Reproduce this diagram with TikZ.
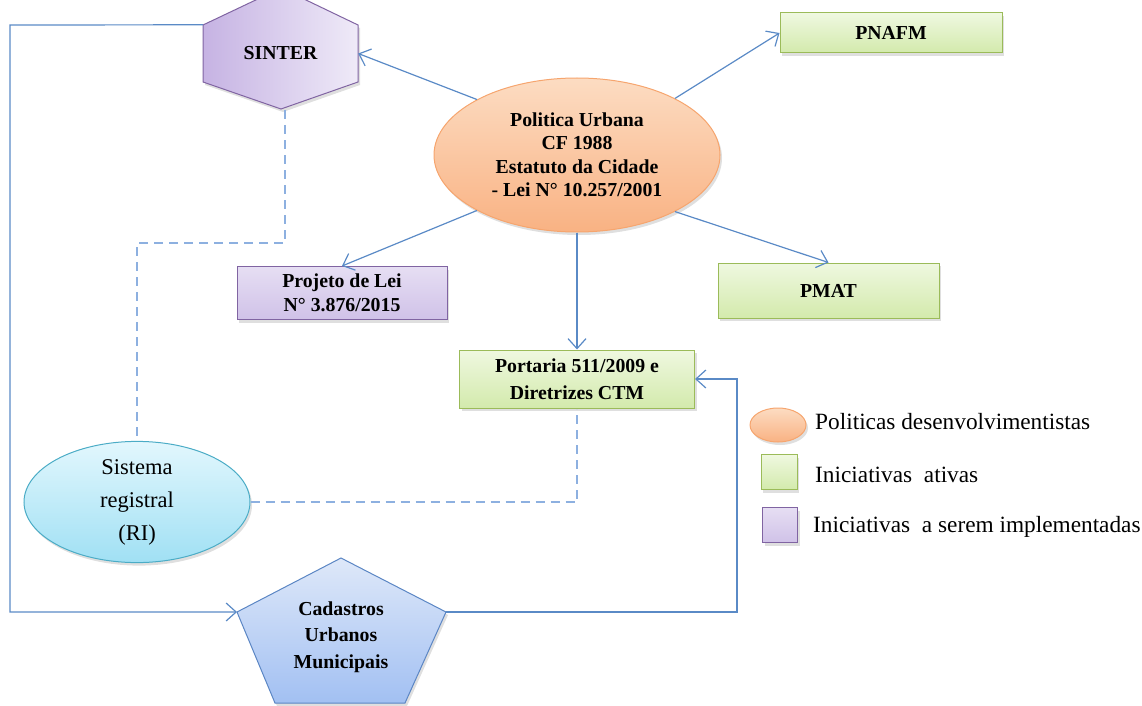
\documentclass[tikz,border=0pt]{standalone}
\usepackage{fontspec}
\setmainfont{Liberation Serif}
\usetikzlibrary{shapes.geometric,arrows.meta,shadows}
\definecolor{lineblue}{HTML}{5A8AC6}
\definecolor{dashblue}{HTML}{8DB0E0}
\definecolor{purpleB}{HTML}{8064A2}
\definecolor{purpleL}{HTML}{C6B3E3}
\definecolor{purpleR}{HTML}{EFEAF8}
\definecolor{purpleT}{HTML}{E6DEF3}
\definecolor{purpleD}{HTML}{D0C2E8}
\definecolor{greenB}{HTML}{9BBB59}
\definecolor{greenT}{HTML}{EFF8E0}
\definecolor{greenD}{HTML}{D3EAAC}
\definecolor{orangeB}{HTML}{F6A56E}
\definecolor{orangeT}{HTML}{FCDCC2}
\definecolor{orangeD}{HTML}{F9B283}
\definecolor{cyanB}{HTML}{4BACC6}
\definecolor{cyanT}{HTML}{E2F7FD}
\definecolor{cyanD}{HTML}{A0E0F4}
\definecolor{blueB}{HTML}{5B86C4}
\definecolor{blueT}{HTML}{DEE8F9}
\definecolor{blueD}{HTML}{A2C0F2}
\tikzset{
  shd/.style={drop shadow={opacity=0.25,shadow xshift=2pt,shadow yshift=-3pt}},
  boldtxt/.style={font=\fontsize{19.8}{24}\selectfont\bfseries,align=center},
  greenbox/.style={rectangle,draw=greenB,line width=1pt,top color=greenT,bottom color=greenD,shd,boldtxt,inner sep=0pt},
  purplebox/.style={rectangle,draw=purpleB,line width=1pt,top color=purpleT,bottom color=purpleD,shd,boldtxt,inner sep=0pt},
  arr/.style={draw=lineblue,line width=1.2pt,-{Straight Barb[length=10pt,width=18pt,line width=1.2pt]}},
  dsh/.style={draw=dashblue,line width=1.8pt,dash pattern=on 9pt off 6pt},
  legtxt/.style={font=\fontsize{23.3}{27}\selectfont,anchor=west,inner sep=0pt}
}
\begin{document}
\begin{tikzpicture}[x=1pt,y=-1pt]
\useasboundingbox (0,0) rectangle (1142,706);
% SINTER hexagon
\path[draw=purpleB,line width=1pt,left color=purpleL,right color=purpleR,shd]
  (203,25) -- (281,-12) -- (358,25) -- (358,82) -- (281,109) -- (203,82) -- cycle;
\node[boldtxt,minimum width=155pt,minimum height=57pt,inner sep=0pt] (sinter) at (280.5,53.5) {SINTER};
\coordinate (sinterB) at (285,110);
% Cadastros pentagon
\path[draw=blueB,line width=1pt,top color=blueT,bottom color=blueD,shd]
  (341,558) -- (446,612) -- (405,703) -- (275,703) -- (237,612) -- cycle;
\coordinate (cadL) at (237,612);
\coordinate (cadR) at (446,612);
\node[boldtxt,font=\fontsize{19.8}{26.5}\selectfont\bfseries] (cad) at (341,637) {Cadastros\\Urbanos\\Municipais};
% main ellipse
\node[ellipse,draw=orangeB,line width=1pt,top color=orangeT,bottom color=orangeD,shd,boldtxt,
  minimum width=286pt,minimum height=154pt,inner sep=0pt,font=\fontsize{19.8}{23.5}\selectfont\bfseries] (pol) at (577,155)
  {Politica Urbana\\CF 1988\\Estatuto da Cidade\\- Lei N° 10.257/2001};
% boxes
\node[greenbox,minimum width=222pt,minimum height=40pt] (pnafm) at (891,33) {PNAFM};
\node[purplebox,minimum width=210pt,minimum height=53pt] (proj) at (342,293) {Projeto de Lei\\N° 3.876/2015};
\node[greenbox,minimum width=221pt,minimum height=55pt] (pmat) at (828.5,290.5) {PMAT};
\node[greenbox,minimum width=235pt,minimum height=58pt,font=\fontsize{19.8}{27}\selectfont\bfseries] (port) at (577,379) {Portaria 511/2009 e\\Diretrizes CTM};
% Sistema registral
\node[ellipse,draw=cyanB,line width=1pt,top color=cyanT,bottom color=cyanD,shd,align=center,
  minimum width=226pt,minimum height=94pt,inner sep=0pt,font=\fontsize{22.5}{33}\selectfont] (sis) at (137,502)
  {Sistema\\registral\\(RI)};
% connectors
\draw[arr] (pol.151) -- (sinter.east);
\draw[arr] (pol.30) -- (pnafm.west);
\draw[arr] (pol.209) -- (proj.north);
\draw[arr] (pol.330) -- (pmat.north);
\draw[arr] (pol.south) -- (port.north);
\draw[arr] (sinter.north west) -- (10,25) |- (cadL);
\draw[arr] (cadR) -- (737,612) |- (port.east);
\draw[dsh] (sinterB) -- (285,243) -| (sis.north);
\draw[dsh] (sis.east) -| (port.south);
% legend
\node[ellipse,draw=orangeB,line width=1pt,top color=orangeT,bottom color=orangeD,shd,minimum width=56pt,minimum height=34pt,inner sep=0pt] (lego) at (778,425) {};
\node[legtxt] (legot) at (815,422) {Politicas desenvolvimentistas};
\node[rectangle,draw=greenB,line width=1pt,top color=greenT,bottom color=greenD,shd,minimum width=36pt,minimum height=35pt,inner sep=0pt] (legg) at (779,472) {};
\node[legtxt] (leggt) at (815,475) {Iniciativas\ \ ativas};
\node[rectangle,draw=purpleB,line width=1pt,top color=purpleT,bottom color=purpleD,shd,minimum width=35pt,minimum height=35pt,inner sep=0pt] (legp) at (780,525) {};
\node[legtxt] (legpt) at (813,527) {Iniciativas\ \ a serem implementadas};
\end{tikzpicture}
\end{document}
